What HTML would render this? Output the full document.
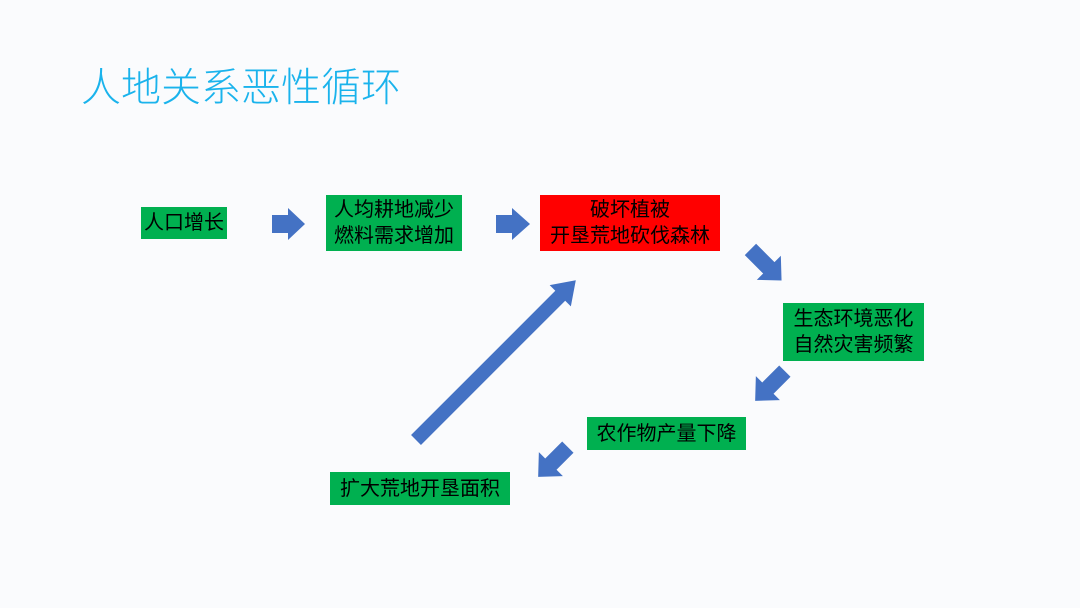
<!DOCTYPE html>
<html><head><meta charset="utf-8"><style>
html,body{margin:0;padding:0;background:#fafbfd;}
body{width:1080px;height:608px;overflow:hidden;position:relative;font-family:"Liberation Sans","Noto Sans CJK SC",sans-serif;}
.t{position:absolute;left:81px;top:62px;font-size:40px;color:#1ab3ec;line-height:52px;white-space:nowrap;font-weight:300;}
.b{position:absolute;background:#00b050;color:#000;font-size:20px;line-height:26px;text-align:center;display:flex;align-items:center;justify-content:center;white-space:nowrap;}
.r{background:#ff0000;}
svg{position:absolute;left:0;top:0;}
</style></head><body>
<div class="t">人地关系恶性循环</div>
<div class="b" style="left:141px;top:207px;width:86px;height:32px;">人口增长</div>
<div class="b" style="left:326px;top:195px;width:136px;height:56px;">人均耕地减少<br>燃料需求增加</div>
<div class="b r" style="left:540px;top:195px;width:180px;height:56px;">破坏植被<br>开垦荒地砍伐森林</div>
<div class="b" style="left:783px;top:303px;width:141px;height:58px;">生态环境恶化<br>自然灾害频繁</div>
<div class="b" style="left:587px;top:417px;width:159px;height:33px;">农作物产量下降</div>
<div class="b" style="left:330px;top:472px;width:180px;height:33px;">扩大荒地开垦面积</div>
<svg width="1080" height="608">
<g fill="#4472c4">
<polygon transform="translate(288,224)" points="-16,-9 0,-9 0,-16 17,0 0,16 0,9 -16,9"/>
<polygon transform="translate(513,224)" points="-17,-9 -1,-9 -1,-16 17,0 -1,16 -1,9 -17,9"/>
<polygon transform="translate(766,265) rotate(45)" points="-22,-8 4,-8 4,-17 22,0 4,17 4,8 -22,8"/>
<polygon transform="translate(770,386) rotate(135)" points="-21,-8 3,-8 3,-17 21,0 3,17 3,8 -21,8"/>
<polygon transform="translate(553,462) rotate(135)" points="-21,-8 3,-8 3,-17 21,0 3,17 3,8 -21,8"/>
<polygon transform="translate(416,440) rotate(-45)" points="0,-7 204,-7 204,-15 226,0 204,15 204,7 0,7"/>
</g>
</svg>
</body></html>
